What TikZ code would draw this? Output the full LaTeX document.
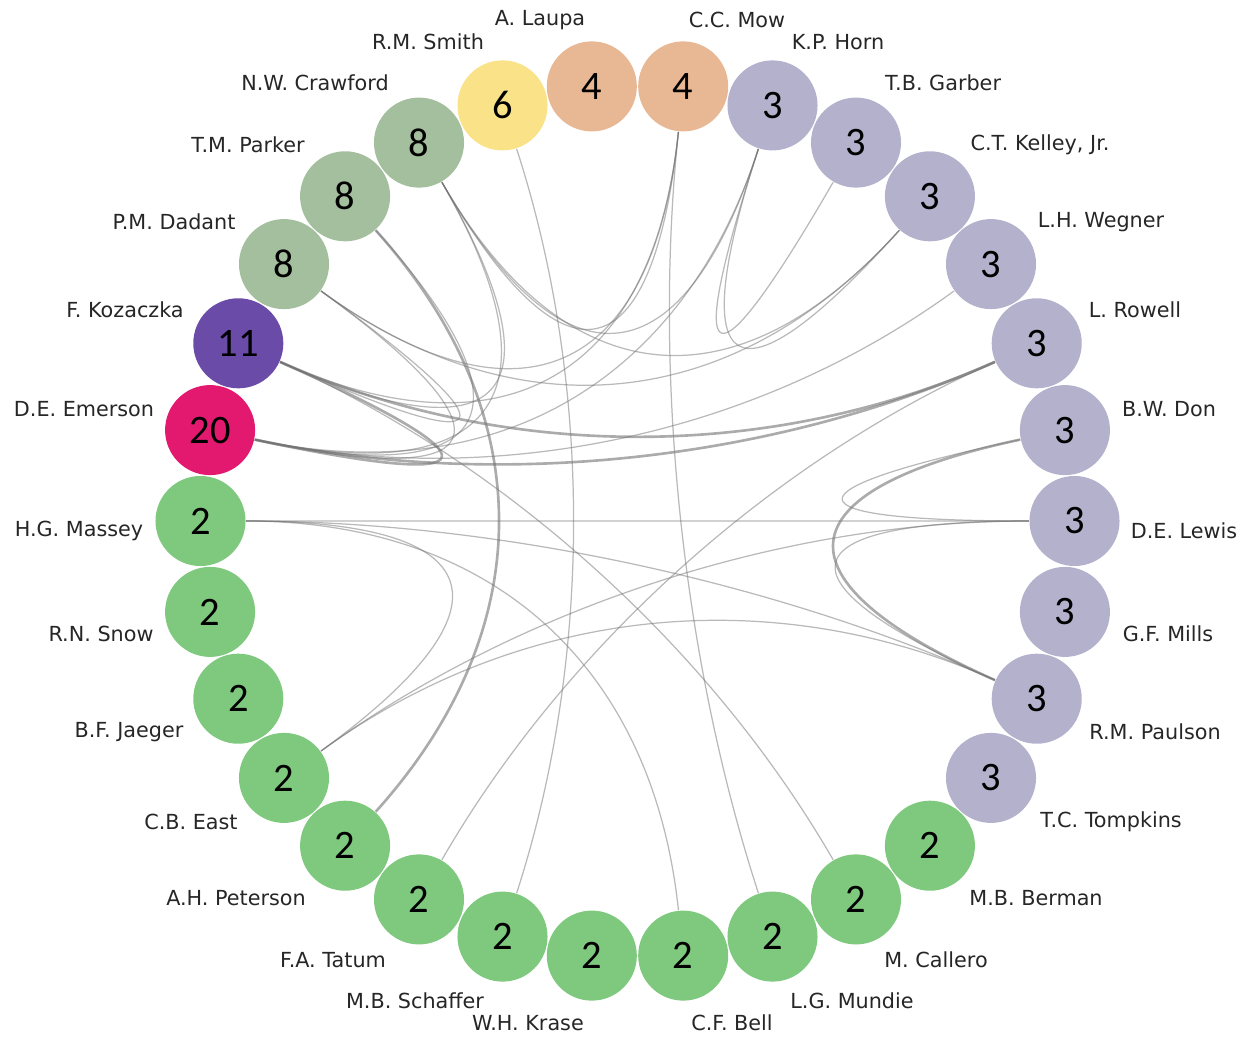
\documentclass[tikz,border=0pt]{standalone}
\usepackage{fontspec}
\setmainfont{DejaVu Sans}
\newfontfamily\numfont{Carlito}
\usetikzlibrary{calc}

\definecolor{grn}{HTML}{7FC97F}
\definecolor{lav}{HTML}{B4B1CC}
\definecolor{peach}{HTML}{E8B894}
\definecolor{sun}{HTML}{F9E287}
\definecolor{sage}{HTML}{A3BF9E}
\definecolor{plum}{HTML}{6B4BA8}
\definecolor{rose}{HTML}{E2196F}
\definecolor{txt}{HTML}{262626}

\begin{document}
\begin{tikzpicture}[
  x=0.01cm, y=-0.01cm,
  auth/.style={circle, inner sep=0pt, minimum size=0.9cm,
               font=\numfont\fontsize{11.5}{12}\selectfont},
  ctwo/.style={auth, fill=grn},
  cthree/.style={auth, fill=lav},
  cfour/.style={auth, fill=peach},
  csix/.style={auth, fill=sun},
  ceight/.style={auth, fill=sage},
  celeven/.style={auth, fill=plum},
  ctwenty/.style={auth, fill=rose},
  lbl/.style={font=\fontsize{5.9}{7}\selectfont, text=txt},
  chord/.style={draw=black!55, line width=0.35pt, opacity=0.5},
  bundle/.style={chord, line width=0.75pt, opacity=0.6},
]
  \useasboundingbox (0,0) rectangle (1252,1046);
  \coordinate (ctr) at (637.5,521);

  %% ── authors, clockwise from the top ──
  \node[cfour]   (laupa)    at (591.8,86.4)   {4};
  \node[cfour]   (mow)      at (683.2,86.4)   {4};
  \node[cthree]  (horn)     at (772.5,105.4)  {3};
  \node[cthree]  (garber)   at (856.0,142.6)  {3};
  \node[cthree]  (kelley)   at (929.9,196.3)  {3};
  \node[cthree]  (wegner)   at (991.0,264.1)  {3};
  \node[cthree]  (rowell)   at (1036.7,343.3) {3};
  \node[cthree]  (don)      at (1064.9,430.1) {3};
  \node[cthree]  (lewis)    at (1074.5,521)   {3};
  \node[cthree]  (mills)    at (1064.9,611.9) {3};
  \node[cthree]  (paulson)  at (1036.7,698.7) {3};
  \node[cthree]  (tompkins) at (991.0,777.9)  {3};
  \node[ctwo]    (berman)   at (929.9,845.7)  {2};
  \node[ctwo]    (callero)  at (856.0,899.4)  {2};
  \node[ctwo]    (mundie)   at (772.5,936.6)  {2};
  \node[ctwo]    (bell)     at (683.2,955.6)  {2};
  \node[ctwo]    (krase)    at (591.8,955.6)  {2};
  \node[ctwo]    (schaffer) at (502.5,936.6)  {2};
  \node[ctwo]    (tatum)    at (419.0,899.4)  {2};
  \node[ctwo]    (peterson) at (345.1,845.7)  {2};
  \node[ctwo]    (east)     at (284.0,777.9)  {2};
  \node[ctwo]    (jaeger)   at (238.3,698.7)  {2};
  \node[ctwo]    (snow)     at (210.1,611.9)  {2};
  \node[ctwo]    (massey)   at (200.5,521)    {2};
  \node[ctwenty] (emerson)  at (210.1,430.1)  {20};
  \node[celeven] (kozaczka) at (238.3,343.3)  {11};
  \node[ceight]  (dadant)   at (284.0,264.1)  {8};
  \node[ceight]  (parker)   at (345.1,196.3)  {8};
  \node[ceight]  (crawford) at (419.0,142.6)  {8};
  \node[csix]    (smith)    at (502.5,105.4)  {6};

  %% ── names ──
  \node[lbl] (l-laupa)    at (540,20)   {A. Laupa};
  \node[lbl] (l-mow)      at (737,20)   {C.C. Mow};
  \node[lbl] (l-smith)    at (428,42)   {R.M. Smith};
  \node[lbl] (l-horn)     at (838,42)   {K.P. Horn};
  \node[lbl] (l-crawford) at (315,83)   {N.W. Crawford};
  \node[lbl] (l-garber)   at (943,83)   {T.B. Garber};
  \node[lbl] (l-parker)   at (248,145)  {T.M. Parker};
  \node[lbl] (l-kelley)   at (1040,145) {C.T. Kelley, Jr.};
  \node[lbl] (l-dadant)   at (174,222)  {P.M. Dadant};
  \node[lbl] (l-wegner)   at (1101,222) {L.H. Wegner};
  \node[lbl] (l-kozaczka) at (125,310)  {F. Kozaczka};
  \node[lbl] (l-rowell)   at (1135,310) {L. Rowell};
  \node[lbl] (l-emerson)  at (84,409)   {D.E. Emerson};
  \node[lbl] (l-don)      at (1169,409) {B.W. Don};
  \node[lbl] (l-massey)   at (79,531)   {H.G. Massey};
  \node[lbl] (l-lewis)    at (1184,531) {D.E. Lewis};
  \node[lbl] (l-snow)     at (101,634)  {R.N. Snow};
  \node[lbl] (l-mills)    at (1168,634) {G.F. Mills};
  \node[lbl] (l-jaeger)   at (129,732)  {B.F. Jaeger};
  \node[lbl] (l-paulson)  at (1155,732) {R.M. Paulson};
  \node[lbl] (l-east)     at (191,822)  {C.B. East};
  \node[lbl] (l-tompkins) at (1111,822) {T.C. Tompkins};
  \node[lbl] (l-peterson) at (236,898)  {A.H. Peterson};
  \node[lbl] (l-berman)   at (1036,898) {M.B. Berman};
  \node[lbl] (l-tatum)    at (333,960)  {F.A. Tatum};
  \node[lbl] (l-callero)  at (936,960)  {M. Callero};
  \node[lbl] (l-schaffer) at (415,1001) {M.B. Schaffer};
  \node[lbl] (l-mundie)   at (852,1001) {L.G. Mundie};
  \node[lbl] (l-krase)    at (528,1023) {W.H. Krase};
  \node[lbl] (l-bell)     at (732,1023) {C.F. Bell};

  %% ── co-authorship chords ──
  \foreach \a/\b in {massey/lewis, massey/east, massey/paulson, massey/bell,
      east/paulson, east/lewis, tatum/rowell, schaffer/smith, mow/mundie,
      callero/kozaczka, don/lewis, lewis/paulson, horn/garber, horn/kelley,
      crawford/horn, crawford/mow, crawford/emerson, crawford/kozaczka,
      crawford/kelley, parker/emerson, kozaczka/dadant, emerson/wegner,
      dadant/mow, dadant/kelley, dadant/emerson, mow/kozaczka, horn/emerson}
    \draw[chord] (\a) .. controls ($(\a)!0.667!(ctr)$) and
      ($(\b)!0.667!(ctr)$) .. (\b);
  \foreach \a/\b in {parker/peterson, don/paulson, emerson/kozaczka,
      kozaczka/rowell, emerson/rowell}
    \draw[bundle] (\a) .. controls ($(\a)!0.667!(ctr)$) and
      ($(\b)!0.667!(ctr)$) .. (\b);
\end{tikzpicture}
\end{document}
